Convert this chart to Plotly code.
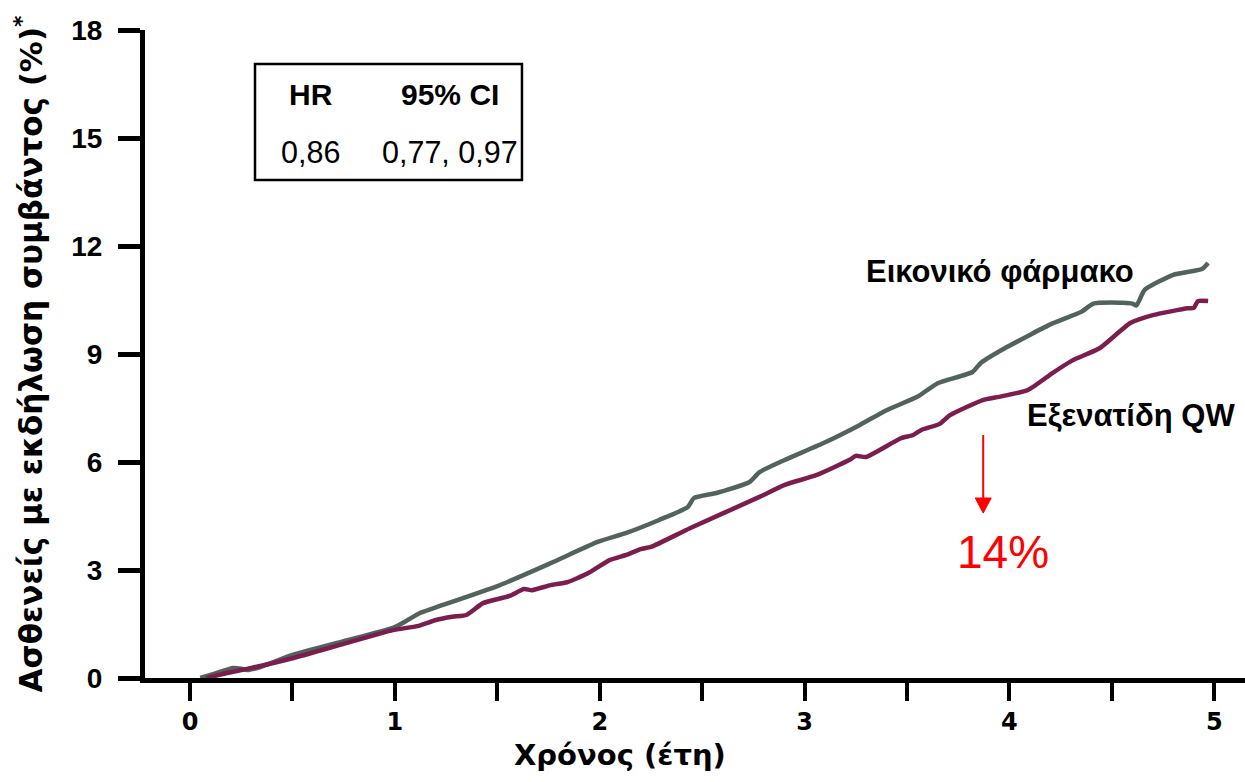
import plotly.graph_objects as go

# ---- data ----
placebo_x = [0.05, 0.12, 0.21, 0.25, 0.28, 0.35, 0.50, 0.75, 0.99, 1.06, 1.12, 1.19, 1.50, 1.76, 1.99,
             2.13, 2.29, 2.43, 2.46, 2.57, 2.73, 2.78, 2.90, 3.09, 3.27, 3.40, 3.55, 3.65, 3.82, 3.86,
             3.99, 4.21, 4.35, 4.41, 4.50, 4.60, 4.62, 4.66, 4.80, 4.94, 4.97]
placebo_y = [0.0, 0.12, 0.28, 0.26, 0.22, 0.32, 0.64, 1.02, 1.39, 1.60, 1.80, 1.94, 2.55, 3.19, 3.78,
             4.03, 4.39, 4.75, 5.00, 5.14, 5.44, 5.72, 6.05, 6.52, 7.03, 7.44, 7.81, 8.19, 8.50, 8.75,
             9.20, 9.85, 10.17, 10.40, 10.43, 10.40, 10.35, 10.78, 11.20, 11.36, 11.53]

exen_x = [0.08, 0.18, 0.30, 0.50, 0.75, 0.99, 1.11, 1.20, 1.28, 1.35, 1.43, 1.56, 1.63, 1.67, 1.76,
          1.84, 1.94, 2.05, 2.13, 2.20, 2.25, 2.44, 2.78, 2.90, 3.06, 3.22, 3.25, 3.30, 3.47, 3.53,
          3.57, 3.66, 3.71, 3.87, 3.95, 4.09, 4.21, 4.31, 4.44, 4.59, 4.70, 4.87, 4.90, 4.92, 4.97]
exen_y = [0.0, 0.14, 0.28, 0.55, 0.95, 1.33, 1.44, 1.61, 1.70, 1.75, 2.08, 2.28, 2.47, 2.44, 2.58,
          2.66, 2.90, 3.28, 3.42, 3.58, 3.64, 4.16, 5.03, 5.36, 5.64, 6.06, 6.17, 6.14, 6.66, 6.75,
          6.89, 7.06, 7.30, 7.72, 7.81, 8.00, 8.47, 8.83, 9.16, 9.86, 10.08, 10.27, 10.28, 10.47, 10.47]

x_ticks = [0, 1, 2, 3, 4, 5]
y_ticks = [0, 3, 6, 9, 12, 15, 18]

hr_header = ["HR", "95% CI"]
hr_values = ["0,86", "0,77, 0,97"]
series_names = ["Εικονικό φάρμακο", "Εξενατίδη QW"]
reduction_label = "14%"
x_title = "Χρόνος (έτη)"
y_title = "Ασθενείς με εκδήλωση συμβάντος (%)<sup>*</sup>"

GRAY = "#52635E"
PURPLE = "#7B1E4E"
WIDE = "DejaVu Sans, Verdana, sans-serif"
REG = "Liberation Sans, Arial, sans-serif"

fig = go.Figure()
fig.add_trace(go.Scatter(x=placebo_x, y=placebo_y, mode="lines", name=series_names[0],
                         line=dict(color=GRAY, width=4.5, shape="spline", smoothing=0.5),
                         showlegend=False, hoverinfo="skip"))
fig.add_trace(go.Scatter(x=exen_x, y=exen_y, mode="lines", name=series_names[1],
                         line=dict(color=PURPLE, width=4.5, shape="spline", smoothing=0.5),
                         showlegend=False, hoverinfo="skip"))

fig.update_layout(
    width=1245, height=782,
    margin=dict(l=145, r=0, t=30, b=104),
    paper_bgcolor="white", plot_bgcolor="white",
    xaxis=dict(
        range=[-0.22, 5.15], tickvals=x_ticks, ticktext=[str(v) for v in x_ticks],
        showgrid=False, zeroline=False, showline=True, linecolor="black", linewidth=5,
        ticks="outside", ticklen=18, tickwidth=4, tickcolor="black",
        minor=dict(dtick=0.5, tick0=0, ticks="outside", ticklen=18, tickwidth=4, tickcolor="black", showgrid=False),
        tickfont=dict(family=WIDE, size=24, color="black", weight="bold"),
    ),
    yaxis=dict(
        range=[0, 18], tickvals=y_ticks, ticktext=[str(v) for v in y_ticks],
        showgrid=False, zeroline=False, showline=True, linecolor="black", linewidth=5,
        ticks="outside", ticklen=22, tickwidth=5, tickcolor="black", ticklabelstandoff=10,
        tickfont=dict(family=REG, size=28, color="black", weight="bold"),
        title=dict(text=y_title, font=dict(family=WIDE, size=31, color="black", weight="bold"), standoff=21),
    ),
)

# x-axis title (offset left of plot centre, as in the reference)
fig.add_annotation(x=0.4318, y=-0.1188, xref="paper", yref="paper", text=x_title, showarrow=False,
                   xanchor="center", yanchor="middle",
                   font=dict(family=WIDE, size=29, color="black", weight="bold"))

# HR box
fig.add_shape(type="rect", xref="paper", yref="paper", x0=0.1, x1=0.3427, y0=0.7685, y1=0.9475,
              line=dict(color="black", width=2.5), fillcolor="rgba(0,0,0,0)")
for i, (h, v) in enumerate(zip(hr_header, hr_values)):
    xp = [0.1509, 0.2773][i]
    fig.add_annotation(x=xp, y=0.8997, xref="paper", yref="paper", text=h, showarrow=False,
                       xanchor="center", yanchor="middle",
                       font=dict(family=REG, size=30, color="black", weight="bold"))
    fig.add_annotation(x=xp, y=0.8117, xref="paper", yref="paper", text=v, showarrow=False,
                       xanchor="center", yanchor="middle",
                       font=dict(family=REG, size=30.5, color="black"))

# series labels
fig.add_annotation(x=3.955, y=11.3, text=series_names[0], showarrow=False,
                   xanchor="center", yanchor="middle",
                   font=dict(family=REG, size=31, color="black", weight="bold"))
fig.add_annotation(x=4.595, y=7.3, text=series_names[1], showarrow=False,
                   xanchor="center", yanchor="middle",
                   font=dict(family=REG, size=31, color="black", weight="bold"))

# reduction arrow (shaft + head) and label
fig.add_shape(type="line", x0=3.872, x1=3.872, y0=6.75, y1=4.95, line=dict(color="red", width=2))
fig.add_shape(type="path", path="M 3.833 5.0 L 3.911 5.0 L 3.872 4.58 Z",
              line=dict(color="red", width=1), fillcolor="red")
fig.add_annotation(x=3.97, y=3.5, text=reduction_label, showarrow=False,
                   xanchor="center", yanchor="middle",
                   font=dict(family=REG, size=46, color="red"))

fig.write_html("out.html")
